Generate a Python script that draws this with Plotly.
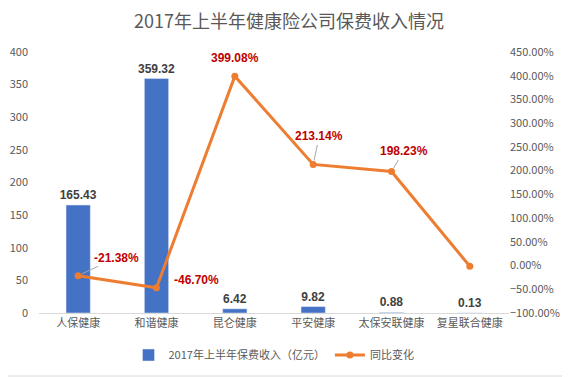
import plotly.graph_objects as go

categories = ["人保健康", "和谐健康", "昆仑健康", "平安健康", "太保安联健康", "复星联合健康"]
premium = [165.43, 359.32, 6.42, 9.82, 0.88, 0.13]
yoy = [-0.2138, -0.4670, 3.9908, 2.1314, 1.9823, -0.015]
yoy_labels = ["-21.38%", "-46.70%", "399.08%", "213.14%", "198.23%", None]

bar_name = "2017年上半年保费收入（亿元）"
line_name = "同比变化"

font_family = "Noto Sans CJK SC, Noto Sans, sans-serif"
# page body has an 8px margin, so the figure is sized to fill the rest of the window
W, H = 562, 369
L, R, T, B = 31, 61, 44, 64

fig = go.Figure()
fig.add_trace(go.Bar(
    x=categories, y=premium, name=bar_name,
    marker_color="#4472C4", width=0.31,
    text=[f"<b>{v:.2f}</b>" for v in premium], textposition="outside",
    constraintext="none",
    textfont=dict(size=12, color="#404040", family="Liberation Sans, Arial, sans-serif"),
    cliponaxis=False,
))
fig.add_trace(go.Scatter(
    x=categories, y=yoy, name=line_name, yaxis="y2",
    mode="lines+markers",
    line=dict(color="#ED7D31", width=3),
    marker=dict(color="#ED7D31", size=7),
))

offsets = [(38, -18), (40, -8), (0, -18), (6, -28), (12, -20), (0, 0)]
arrows = [True, False, False, True, True, False]
for c, v, t, (ax, ay), a in zip(categories, yoy, yoy_labels, offsets, arrows):
    if t is None:
        continue
    fig.add_annotation(
        x=c, y=v, yref="y2", text=f"<b>{t}</b>",
        showarrow=True, ax=ax, ay=ay,
        arrowhead=0, arrowwidth=1,
        arrowcolor="#A6A6A6" if a else "rgba(0,0,0,0)",
        font=dict(size=12, color="#C00000", family="Liberation Sans, Arial, sans-serif"),
        standoff=4,
    )

pw = W - L - R
ph = H - T - B
# right and bottom outer border of the chart
fig.add_shape(type="line", xref="paper", yref="paper",
              x0=1 + (R - 1) / pw, x1=1 + (R - 1) / pw, y0=-B / ph, y1=1 + T / ph,
              line=dict(color="#D9D9D9", width=1))
fig.add_shape(type="line", xref="paper", yref="paper",
              x0=-L / pw, x1=1 + R / pw, y0=-(B - 1) / ph, y1=-(B - 1) / ph,
              line=dict(color="#D9D9D9", width=1))

fig.update_layout(
    width=W, height=H,
    margin=dict(l=L, r=R, t=T, b=B, autoexpand=False),
    paper_bgcolor="white", plot_bgcolor="white",
    font=dict(family=font_family, color="#595959", size=11),
    title=dict(text="2017年上半年健康险公司保费收入情况", x=0.5, xanchor="center",
               y=1 - 14 / H, yanchor="middle",
               font=dict(size=18, color="#595959", family=font_family)),
    xaxis=dict(showline=True, linecolor="#D9D9D9", ticks="", showgrid=False, automargin=False,
               tickfont=dict(size=11, color="#595959")),
    yaxis=dict(range=[0, 400], dtick=50, showgrid=False, zeroline=False, automargin=False,
               ticklabelstandoff=10,
               tickfont=dict(size=11, color="#595959")),
    yaxis2=dict(range=[-1, 4.5], dtick=0.5, tickformat=".2%", overlaying="y", side="right",
                showgrid=False, zeroline=False, automargin=False,
                tickfont=dict(size=11, color="#595959")),
    legend=dict(orientation="h", x=0.5, xanchor="center", y=-42 / ph, yanchor="middle",
                font=dict(size=11, color="#595959"), itemwidth=30),
    showlegend=True,
    bargap=0.5,
)

fig.write_html("out.html")
